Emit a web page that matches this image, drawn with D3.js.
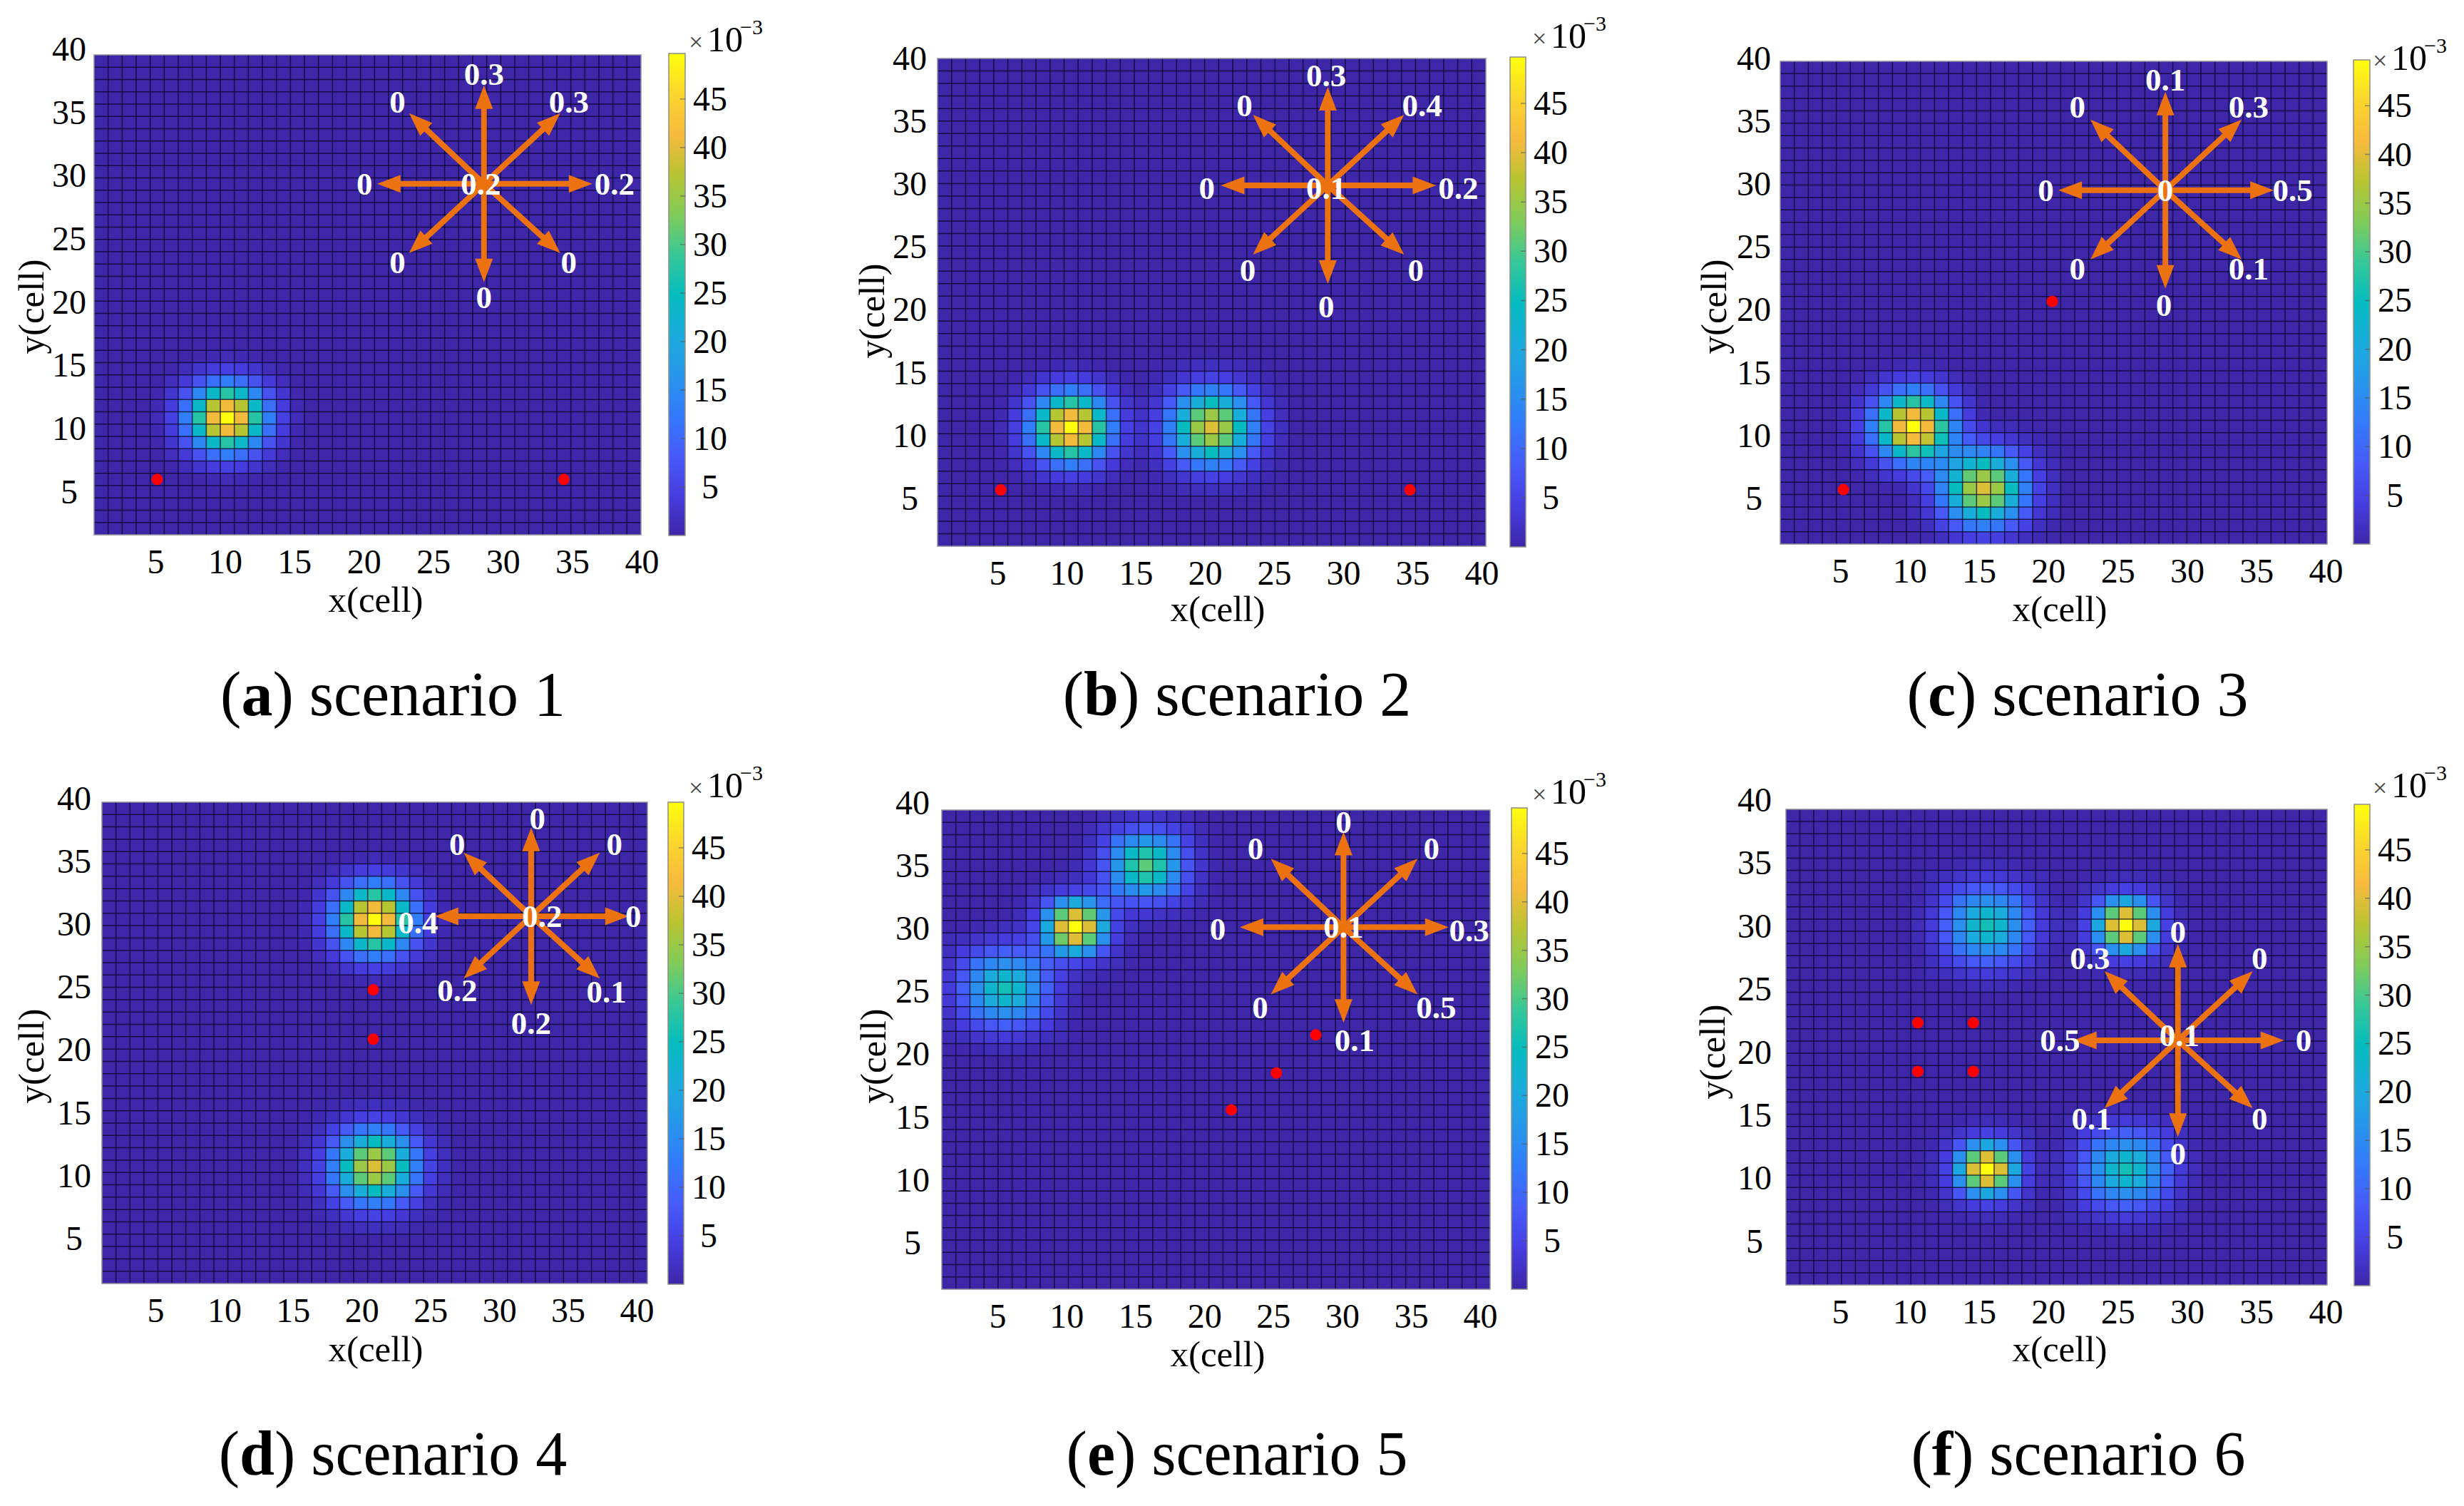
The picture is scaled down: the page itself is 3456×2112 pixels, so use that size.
<!DOCTYPE html>
<html>
<head>
<meta charset="utf-8">
<script src="https://d3js.org/d3.v7.min.js"></script>
<style>
  body { margin: 0; background: #fff; }
  text { font-family: "Liberation Serif", serif; }
</style>
</head>
<body>
<div id="chart"></div>
<script>
// tick labels
var xTicks = [5, 10, 15, 20, 25, 30, 35, 40];
var yTicks = [5, 10, 15, 20, 25, 30, 35, 40];
var cbarTicks = [5, 10, 15, 20, 25, 30, 35, 40, 45];
var cbarMax = 49.7;
var gridSize = 40;

// old matlab parula, sampled
var parula = ["#3e26a8", "#463de0", "#475bf9", "#337afc", "#2796eb", "#1aacdc", "#05bcbf",
    "#37c897", "#81cc59", "#b9c431", "#f8ba3d", "#fad62d", "#ffff0d"];

// blob shapes, one quadrant, |dy| rows by |dx| columns (x10^-3)
var kernelA = [
    [49.7, 41, 27.6, 13, 4.5, 1],
    [41, 37, 23.7, 11, 4, 0.8],
    [27.6, 23.7, 14.5, 7, 2.8, 0.4],
    [13, 11, 7, 3.5, 1.3, 0],
    [4.5, 4, 2.8, 1.3, 0.4, 0],
    [1, 0.8, 0.4, 0, 0, 0]
];
var kernelB = [
    [39.5, 35, 25, 13.5, 5, 1.8],
    [35, 31, 21, 12, 4.3, 1.5],
    [25, 21, 15.5, 8, 3, 1],
    [13.5, 12, 8, 4.7, 1.8, 0.5],
    [5, 4.3, 3, 1.8, 0.8, 0.2],
    [1.8, 1.5, 1, 0.5, 0.2, 0]
];
var kernelC = [
    [49.7, 39.5, 20, 4.7, 1.2, 0.3],
    [39.5, 31, 15.5, 4, 1, 0.2],
    [20, 15.5, 7.5, 2.5, 0.6, 0],
    [4.7, 4, 2.5, 1.2, 0.3, 0],
    [1.2, 1, 0.6, 0.3, 0, 0],
    [0.3, 0.2, 0, 0, 0, 0]
];
var kernelD = [
    [26, 23, 15.5, 9, 3.8, 1.3],
    [23, 20.5, 14.5, 7.7, 3.4, 1],
    [15.5, 14.5, 11.5, 6, 2.5, 0.7],
    [9, 7.7, 6, 4, 1.7, 0.4],
    [3.8, 3.4, 2.5, 1.7, 1, 0.2],
    [1.3, 1, 0.7, 0.4, 0.2, 0]
];
var kernelE = [
    [31, 27, 17, 7.5, 2.8, 0.6],
    [27, 23.7, 15, 6.5, 2.3, 0.4],
    [17, 15, 11.5, 5, 1.8, 0.3],
    [7.5, 6.5, 5, 3, 1, 0.2],
    [2.8, 2.3, 1.8, 1, 0.4, 0],
    [0.6, 0.4, 0.3, 0.2, 0, 0]
];

// which blob sits on which cell, per scenario
var blobsA = [[10, 10, kernelA]];
var blobsB = [[10, 10, kernelA], [20, 10, kernelB]];
var blobsC = [[10, 10, kernelA], [15, 5, kernelB]];
var blobsD = [[20, 30, kernelA], [20, 10, kernelB]];
var blobsE = [[5, 25, kernelD], [10, 30, kernelC], [15, 35, kernelE]];
var blobsF = [[15, 30, kernelD], [25, 30, kernelC], [15, 10, kernelC], [25, 10, kernelD]];

// red dots in axis units
var dotsA = [[5.5, 5.5], [34.5, 5.5]];
var dotsB = [[5.5, 5.5], [34.6, 5.5]];
var dotsC = [[5.5, 5.4], [20.4, 20.6]];
var dotsD = [[20.4, 24.8], [20.4, 20.8]];
var dotsE = [[27.6, 21.7], [24.8, 18.6], [21.6, 15.6]];
var dotsF = [[10.5, 22.5], [14.5, 22.5], [10.5, 18.5], [14.5, 18.5]];

// arrow numbers: centre, E, NE, N, NW, W, SW, S, SE
var flowsA = ["0.2", "0.2", "0.3", "0.3", "0", "0", "0", "0", "0"];
var flowsB = ["0.1", "0.2", "0.4", "0.3", "0", "0", "0", "0", "0"];
var flowsC = ["0", "0.5", "0.3", "0.1", "0", "0", "0", "0", "0.1"];
var flowsD = ["0.2", "0", "0", "0", "0", "0.4", "0.2", "0.2", "0.1"];
var flowsE = ["0.1", "0.3", "0", "0", "0", "0", "0", "0.1", "0.5"];
var flowsF = ["0.1", "0", "0", "0", "0.3", "0.5", "0.1", "0", "0"];

var captionLetters = ["a", "b", "c", "d", "e", "f"];
var captionTexts = ["scenario 1", "scenario 2", "scenario 3", "scenario 4", "scenario 5", "scenario 6"];

// layout, all in page pixels
var svgWidth = 3456;
var svgHeight = 2112;
var k = 2.204; // label spots below were measured on a 1568 wide view

var arrowTips = [[152, 0], [107, -99], [0, -138], [-105, -99], [-150, 0], [-105, 97], [0, 138], [107, 97]];

var panels = [
    { blobs: blobsA, dots: dotsA, flows: flowsA, box: [132, 899, 77, 750], cbar: [938, 961, 75, 751], xTick: [218, 900], yTick: [690, 69], yLabelX: 97,
      xTitle: [527, 858], yTitle: [61, 430], exp: [966, 72], cap: [551, 1003], centre: [308, 117], arrowScale: 1,
      spots: [[306, 117], [391, 117], [362, 65], [308, 47], [253, 65], [232, 117], [253, 167], [308, 189], [362, 167]] },
    { blobs: blobsB, dots: dotsB, flows: flowsB, box: [1315, 2084, 82, 766], cbar: [2118, 2140, 80, 767], xTick: [1399, 2078], yTick: [699, 82], yLabelX: 1276,
      xTitle: [1708, 871], yTitle: [1240, 436], exp: [2149, 67], cap: [1735, 1003], centre: [845, 118], arrowScale: 1,
      spots: [[844, 120], [928, 120], [905, 67], [844, 48], [792, 67], [768, 120], [794, 172], [844, 195], [901, 172]] },
    { blobs: blobsC, dots: dotsC, flows: flowsC, box: [2497, 3264, 86, 763], cbar: [3301, 3324, 84, 763], xTick: [2581, 3262], yTick: [699, 82], yLabelX: 2460,
      xTitle: [2889, 871], yTitle: [2421, 430], exp: [3328, 98], cap: [2914, 1003], centre: [1378, 121], arrowScale: 1,
      spots: [[1378, 121], [1459, 121], [1431, 68], [1378, 51], [1322, 68], [1302, 121], [1322, 171], [1377, 194], [1431, 171]] },
    { blobs: blobsD, dots: dotsD, flows: flowsD, box: [143, 908, 1125, 1800], cbar: [937, 959, 1125, 1801], xTick: [218, 893], yTick: [1737, 1120], yLabelX: 104,
      xTitle: [527, 1909], yTitle: [61, 1481], exp: [966, 1118], cap: [551, 2068], centre: [338, 583], arrowScale: 0.9,
      spots: [[345, 583], [403, 583], [391, 537], [342, 521], [291, 537], [266, 587], [291, 630], [338, 651], [386, 631]] },
    { blobs: blobsE, dots: dotsE, flows: flowsE, box: [1321, 2090, 1136, 1808], cbar: [2120, 2142, 1133, 1808], xTick: [1399, 2076], yTick: [1743, 1126], yLabelX: 1280,
      xTitle: [1708, 1916], yTitle: [1242, 1481], exp: [2149, 1127], cap: [1735, 2068], centre: [855, 590], arrowScale: 0.97,
      spots: [[855, 590], [935, 592], [911, 540], [855, 523], [799, 540], [775, 591], [802, 641], [862, 662], [914, 641]] },
    { blobs: blobsF, dots: dotsF, flows: flowsF, box: [2505, 3264, 1135, 1802], cbar: [3302, 3324, 1128, 1803], xTick: [2581, 3262], yTick: [1741, 1122], yLabelX: 2461,
      xTitle: [2889, 1909], yTitle: [2419, 1475], exp: [3328, 1118], cap: [2915, 2068], centre: [1386, 662], arrowScale: 0.98,
      spots: [[1387, 659], [1466, 662], [1438, 610], [1386, 593], [1330, 610], [1311, 662], [1331, 712], [1386, 734], [1438, 712]] }
];

var svg = d3.select("#chart")
    .append("svg")
    .attr("width", svgWidth)
    .attr("height", svgHeight);

svg.append("rect")
    .attr("width", svgWidth)
    .attr("height", svgHeight)
    .attr("fill", "#fff");

var defs = svg.append("defs");

var colorScale = d3.scaleLinear()
    .domain(parula.map((c, i) => i / (parula.length - 1) * cbarMax))
    .range(parula)
    .clamp(true);

// gradient for the colorbars
var gradient = defs.append("linearGradient")
    .attr("id", "parulaGrad")
    .attr("x1", 0).attr("x2", 0).attr("y1", 1).attr("y2", 0);

gradient.selectAll("stop")
    .data(parula)
    .enter()
    .append("stop")
    .attr("offset", (d, i) => i / (parula.length - 1))
    .attr("stop-color", d => d);

// add up the blobs on the 39 x 39 cells
function buildCells(blobs) {
    var cells = [];
    d3.range(1, gridSize).forEach(function (cx) {
        d3.range(1, gridSize).forEach(function (cy) {
            var v = 0;
            blobs.forEach(function (b) {
                var dx = Math.abs(cx - b[0]);
                var dy = Math.abs(cy - b[1]);
                if (dx < 6 && dy < 6) v += b[2][dy][dx];
            });
            cells.push({ cx: cx, cy: cy, v: Math.min(v, cbarMax) });
        });
    });
    return cells;
}

function drawPanel(p, idx) {
    var g = svg.append("g");
    var x = d3.scaleLinear().domain([1, gridSize]).range([p.box[0], p.box[1]]);
    var y = d3.scaleLinear().domain([1, gridSize]).range([p.box[3], p.box[2]]);

    // heat cells
    g.append("g")
        .attr("shape-rendering", "crispEdges")
        .selectAll("rect")
        .data(buildCells(p.blobs))
        .enter()
        .append("rect")
        .attr("x", d => x(d.cx))
        .attr("y", d => y(d.cy + 1))
        .attr("width", d => x(d.cx + 1) - x(d.cx))
        .attr("height", d => y(d.cy) - y(d.cy + 1))
        .attr("fill", d => colorScale(d.v));

    // pcolor grid lines
    var gridLines = g.append("g")
        .attr("stroke", "#05021e")
        .attr("stroke-opacity", 0.72)
        .attr("stroke-width", 1.5);

    gridLines.selectAll("line.v")
        .data(d3.range(2, gridSize))
        .enter()
        .append("line")
        .attr("class", "v")
        .attr("x1", d => x(d)).attr("x2", d => x(d))
        .attr("y1", p.box[2]).attr("y2", p.box[3]);

    gridLines.selectAll("line.h")
        .data(d3.range(2, gridSize))
        .enter()
        .append("line")
        .attr("class", "h")
        .attr("y1", d => y(d)).attr("y2", d => y(d))
        .attr("x1", p.box[0]).attr("x2", p.box[1]);

    g.append("rect")
        .attr("x", p.box[0])
        .attr("y", p.box[2])
        .attr("width", p.box[1] - p.box[0])
        .attr("height", p.box[3] - p.box[2])
        .attr("fill", "none")
        .attr("stroke", "#8c8c9a")
        .attr("stroke-width", 1.5);

    // red dots
    g.selectAll("circle.dot")
        .data(p.dots)
        .enter()
        .append("circle")
        .attr("class", "dot")
        .attr("cx", d => x(d[0]))
        .attr("cy", d => y(d[1]))
        .attr("r", 8)
        .attr("fill", "#fe0000");

    // tick labels sit a little off the cells in the original, so they get their own scales
    var xTickScale = d3.scaleLinear().domain([5, 40]).range(p.xTick);
    var yTickScale = d3.scaleLinear().domain([5, 40]).range(p.yTick);

    var xAxis = g.append("g")
        .attr("transform", `translate(0, ${p.box[3]})`)
        .call(d3.axisBottom(xTickScale).tickValues(xTicks).tickSize(0).tickPadding(20));
    xAxis.select(".domain").remove();
    xAxis.selectAll("text")
        .attr("font-size", 48)
        .attr("font-family", "Liberation Serif")
        .attr("fill", "#000");

    var yAxis = g.append("g")
        .attr("transform", `translate(${p.yLabelX}, 0)`)
        .call(d3.axisLeft(yTickScale).tickValues(yTicks).tickSize(0).tickPadding(0));
    yAxis.select(".domain").remove();
    yAxis.selectAll("text")
        .attr("font-size", 48)
        .attr("font-family", "Liberation Serif")
        .attr("text-anchor", "middle")
        .attr("fill", "#000");

    // axis titles
    g.append("text")
        .attr("x", p.xTitle[0])
        .attr("y", p.xTitle[1])
        .attr("text-anchor", "middle")
        .attr("font-size", 51)
        .text("x(cell)");

    g.append("text")
        .attr("transform", `translate(${p.yTitle[0]}, ${p.yTitle[1]}) rotate(-90)`)
        .attr("text-anchor", "middle")
        .attr("font-size", 51)
        .text("y(cell)");

    // colorbar
    var cbScale = d3.scaleLinear().domain([0, cbarMax]).range([p.cbar[3], p.cbar[2]]);

    g.append("rect")
        .attr("x", p.cbar[0])
        .attr("y", p.cbar[2])
        .attr("width", p.cbar[1] - p.cbar[0])
        .attr("height", p.cbar[3] - p.cbar[2])
        .attr("fill", "url(#parulaGrad)")
        .attr("stroke", "#8f8f85")
        .attr("stroke-width", 1.5);

    g.selectAll("line.cbtick")
        .data(cbarTicks)
        .enter()
        .append("line")
        .attr("class", "cbtick")
        .attr("x1", p.cbar[1] - 7)
        .attr("x2", p.cbar[1])
        .attr("y1", d => cbScale(d))
        .attr("y2", d => cbScale(d))
        .attr("stroke", "#555")
        .attr("stroke-opacity", 0.6)
        .attr("stroke-width", 1.5);

    g.selectAll("text.cblabel")
        .data(cbarTicks)
        .enter()
        .append("text")
        .attr("class", "cblabel")
        .attr("x", p.cbar[1] + 35)
        .attr("y", d => cbScale(d) + 16)
        .attr("text-anchor", "middle")
        .attr("font-size", 48)
        .text(d => d);

    // x10^-3 over the colorbar
    g.append("text")
        .attr("x", p.exp[0])
        .attr("y", p.exp[1] - 1)
        .attr("font-size", 36)
        .attr("fill", "#444")
        .text("×");
    g.append("text")
        .attr("x", p.exp[0] + 26)
        .attr("y", p.exp[1])
        .attr("font-size", 50)
        .text("10");
    g.append("text")
        .attr("x", p.exp[0] + 72)
        .attr("y", p.exp[1] - 24)
        .attr("font-size", 30)
        .text("−3");

    // arrows
    var cx = p.centre[0] * k;
    var cy = p.centre[1] * k;
    var arrows = g.append("g").attr("fill", "#ec7210");

    arrows.selectAll("path")
        .data(arrowTips)
        .enter()
        .append("path")
        .attr("transform", d => `translate(${cx}, ${cy}) rotate(${Math.atan2(d[1], d[0]) * 180 / Math.PI})`)
        .attr("d", function (d) {
            var len = Math.hypot(d[0], d[1]) * p.arrowScale;
            var hl = 33;
            return `M0,-4 L${len - hl},-4 L${len - hl},-12.5 L${len},0 L${len - hl},12.5 L${len - hl},4 L0,4 Z`;
        });

    // arrow numbers
    g.selectAll("text.flow")
        .data(p.flows)
        .enter()
        .append("text")
        .attr("class", "flow")
        .attr("x", (d, i) => p.spots[i][0] * k)
        .attr("y", (d, i) => p.spots[i][1] * k + 15)
        .attr("text-anchor", "middle")
        .attr("font-size", 45)
        .attr("font-weight", "bold")
        .attr("fill", "#fff")
        .text(d => d);

    // caption
    var cap = g.append("text")
        .attr("x", p.cap[0])
        .attr("y", p.cap[1])
        .attr("text-anchor", "middle")
        .attr("font-size", 88)
        .attr("fill", "#000");
    cap.append("tspan").text("(");
    cap.append("tspan").attr("font-weight", "bold").text(captionLetters[idx]);
    cap.append("tspan").text(") " + captionTexts[idx]);
}

panels.forEach(drawPanel);
</script>
</body>
</html>
